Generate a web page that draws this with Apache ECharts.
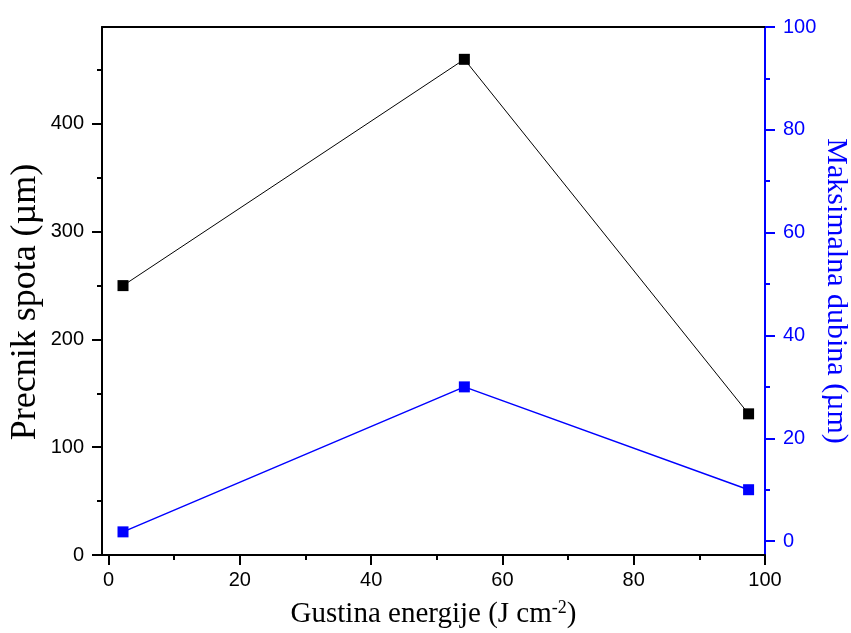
<!DOCTYPE html>
<html>
<head>
<meta charset="utf-8">
<script src="https://cdn.jsdelivr.net/npm/echarts@6/dist/echarts.min.js"></script>
<style>html,body{margin:0;padding:0;background:#fff}#c{width:851px;height:633px}</style>
</head>
<body>
<div id="c"></div>
<script>
// Data
const energy = [2.2, 54.2, 97.5];
const spotDiameter = [250, 460, 131];
const maxDepth = [1.8, 30, 10];
const xTicks = [0, 20, 40, 60, 80, 100];
const xMinorTicks = [10, 30, 50, 70, 90];
const leftTicks = [0, 100, 200, 300, 400];
const leftMinorTicks = [50, 150, 250, 350, 450];
const rightTicks = [0, 20, 40, 60, 80, 100];
const rightMinorTicks = [10, 30, 50, 70, 90];

const X_MIN = -1, X_MAX = 100, L_MIN = 0, L_MAX = 490, R_MIN = -2.7, R_MAX = 100;
const BLUE = '#0000ff';
const labelFont = { fontFamily: 'Liberation Sans, Arial', fontSize: 20 };
const titleFont = 'Liberation Serif, Times New Roman';

const chart = echarts.init(document.getElementById('c'), null, { renderer: 'canvas' });
chart.setOption({
  animation: false,
  backgroundColor: '#fff',
  grid: { left: 102, right: 86, top: 27, bottom: 78, containLabel: false, outerBoundsMode: 'none' },
  xAxis: [
    {
      type: 'value', position: 'bottom', min: X_MIN, max: X_MAX,
      axisLine: { show: true, onZero: false, lineStyle: { color: '#000', width: 2 } },
      axisTick: { show: true, inside: false, length: 10, customValues: xTicks, lineStyle: { color: '#000', width: 2 } },
      axisLabel: { show: true, customValues: xTicks, margin: 15, color: '#000', ...labelFont },
      splitLine: { show: false },
      name: '{a|Gustina energije (J cm}{s|-2}{a|)}',
      nameLocation: 'middle', nameGap: 44, nameMoveOverlap: false,
      nameTextStyle: {
        rich: {
          a: { fontFamily: titleFont, fontSize: 29, color: '#000' },
          s: { fontFamily: titleFont, fontSize: 18, color: '#000', verticalAlign: 'top', padding: [0, 0, 12, 0] }
        }
      }
    },
    {
      type: 'value', position: 'bottom', min: X_MIN, max: X_MAX,
      axisLine: { show: false, onZero: false },
      axisTick: { show: true, length: 5, customValues: xMinorTicks, lineStyle: { color: '#000', width: 2 } },
      axisLabel: { show: false }, splitLine: { show: false }
    },
    {
      type: 'value', position: 'top', min: X_MIN, max: X_MAX,
      axisLine: { show: true, onZero: false, lineStyle: { color: '#000', width: 2 } },
      axisTick: { show: false }, axisLabel: { show: false }, splitLine: { show: false }
    }
  ],
  yAxis: [
    {
      type: 'value', position: 'left', min: L_MIN, max: L_MAX,
      axisLine: { show: true, onZero: false, lineStyle: { color: '#000', width: 2 } },
      axisTick: { show: true, length: 10, customValues: leftTicks, lineStyle: { color: '#000', width: 2 } },
      axisLabel: { show: true, customValues: leftTicks, margin: 18, color: '#000', ...labelFont },
      splitLine: { show: false },
      name: 'Precnik spota (\u00b5m)', nameLocation: 'middle', nameGap: 58, nameMoveOverlap: false,
      nameTextStyle: { fontFamily: titleFont, fontSize: 36, color: '#000', padding: [0, 22, 0, 0] }
    },
    {
      type: 'value', position: 'left', min: L_MIN, max: L_MAX,
      axisLine: { show: false, onZero: false },
      axisTick: { show: true, length: 5, customValues: leftMinorTicks, lineStyle: { color: '#000', width: 2 } },
      axisLabel: { show: false }, splitLine: { show: false }
    },
    {
      type: 'value', position: 'right', min: R_MIN, max: R_MAX,
      axisLine: { show: true, onZero: false, lineStyle: { color: BLUE, width: 2 } },
      axisTick: { show: true, length: 10, customValues: rightTicks, lineStyle: { color: BLUE, width: 2 } },
      axisLabel: { show: true, customValues: rightTicks, margin: 18, color: BLUE, ...labelFont },
      splitLine: { show: false },
      name: 'Maksimalna dubina (\u00b5m)', nameLocation: 'middle', nameGap: 56, nameRotate: -90, nameMoveOverlap: false,
      nameTextStyle: { fontFamily: titleFont, fontSize: 30, color: BLUE }
    },
    {
      type: 'value', position: 'right', min: R_MIN, max: R_MAX,
      axisLine: { show: false, onZero: false },
      axisTick: { show: true, length: 5, customValues: rightMinorTicks, lineStyle: { color: BLUE, width: 2 } },
      axisLabel: { show: false }, splitLine: { show: false }
    }
  ],
  series: [
    {
      type: 'line', xAxisIndex: 0, yAxisIndex: 0,
      data: energy.map((x, i) => [x, spotDiameter[i]]),
      symbol: 'rect', symbolSize: 11,
      lineStyle: { color: '#000', width: 1 },
      itemStyle: { color: '#000' }
    },
    {
      type: 'line', xAxisIndex: 0, yAxisIndex: 2,
      data: energy.map((x, i) => [x, maxDepth[i]]),
      symbol: 'rect', symbolSize: 11,
      lineStyle: { color: BLUE, width: 1.5 },
      itemStyle: { color: BLUE }
    }
  ]
});
</script>
</body>
</html>
